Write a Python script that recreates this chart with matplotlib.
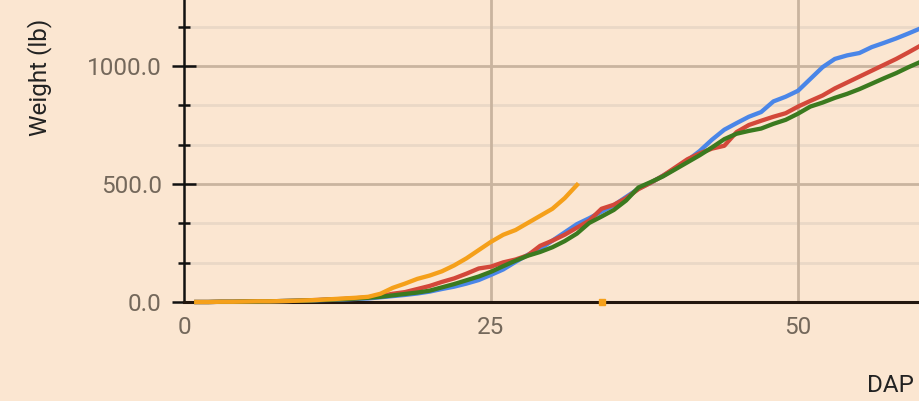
import matplotlib
matplotlib.use("Agg")
import matplotlib.pyplot as plt
import numpy as np

plt.rcParams['font.family'] = ['Roboto', 'DejaVu Sans']

days = list(range(1, 62))
blue = [0, 0, 1, 1, 2, 2, 3, 4, 5, 6, 8, 9, 11, 13, 15, 20, 25, 30, 36, 44,
        55, 65, 78, 93, 115, 138, 170, 200, 225, 260, 295, 330, 355, 383, 410, 445, 480, 505, 535, 565,
        600, 640, 688, 730, 758, 785, 805, 850, 870, 895, 945, 995, 1030, 1045, 1055, 1080, 1098, 1117, 1138, 1160,
        1180]
red = [0, 0, 1, 1, 2, 3, 3, 4, 5, 7, 9, 11, 13, 16, 20, 25, 35, 42, 55, 68,
       85, 100, 120, 142, 150, 168, 180, 198, 238, 260, 285, 315, 345, 395, 412, 440, 478, 505, 535, 570,
       605, 630, 650, 662, 720, 750, 768, 785, 800, 828, 852, 875, 905, 930, 955, 980, 1005, 1030, 1058, 1087,
       1115]
green = [0, 0, 1, 1, 2, 2, 3, 4, 5, 6, 8, 10, 12, 15, 18, 22, 28, 34, 40, 48,
         62, 76, 92, 108, 128, 152, 175, 196, 212, 232, 258, 290, 335, 362, 390, 430, 485, 508, 532, 562,
         592, 622, 655, 690, 713, 725, 735, 755, 772, 798, 828, 845, 865, 882, 902, 925, 948, 970, 995, 1018,
         1042]
orange_days = list(range(1, 33))
orange = [0, 0, 1, 1, 2, 3, 3, 4, 5, 7, 9, 12, 15, 18, 22, 35, 60, 78, 98, 112,
          130, 155, 185, 220, 255, 285, 305, 335, 365, 395, 440, 496]
orange_dot_x = [34]
orange_dot_y = [0]

x_ticks = [0, 25, 50]
y_major = [0, 500, 1000]
y_minor = [500 / 3, 1000 / 3, 2000 / 3, 2500 / 3, 3500 / 3]

BG = '#fbe6d1'
fig = plt.figure(figsize=(9.2, 4.01), dpi=100, facecolor=BG)
ax = fig.add_axes([184 / 920, 99 / 401, 736 / 920, 302 / 401], facecolor=BG)

ax.set_xlim(0, 736 / 12.28)
ax.set_ylim(0, 302 / 0.236)

for yv in y_minor:
    ax.axhline(yv, color='#ead8c6', lw=2.0, zorder=1)
for yv in y_major[1:]:
    ax.axhline(yv, color='#c9b49f', lw=2.0, zorder=1)
for xv in x_ticks[1:]:
    ax.axvline(xv, color='#c9b49f', lw=2.0, zorder=1)

lw = 3.1
ax.plot(days, blue, color='#4a86e8', lw=lw, zorder=4, clip_on=False, solid_joinstyle='round')
ax.plot(days, red, color='#d3483a', lw=lw, zorder=4, clip_on=False, solid_joinstyle='round')
ax.plot(days, green, color='#3b7a1f', lw=lw, zorder=5, clip_on=False, solid_joinstyle='round')
ax.plot(orange_days, orange, color='#f5a01a', lw=lw, zorder=6, clip_on=False, solid_joinstyle='round')
ax.plot(orange_dot_x, orange_dot_y, marker='s', ms=4, color='#f5a01a', ls='none', zorder=6, clip_on=False)

for s in ['top', 'right']:
    ax.spines[s].set_visible(False)
ax.spines['left'].set_color('#111111')
ax.spines['left'].set_linewidth(1.8)
ax.spines['bottom'].set_color('#22160e')
ax.spines['bottom'].set_linewidth(2.2)
ax.spines['left'].set_zorder(3)
ax.spines['bottom'].set_zorder(3)

ax.set_yticks(y_major)
ax.set_yticklabels([f"{v:.1f}" for v in y_major])
ax.set_yticks(y_minor, minor=True)
ax.tick_params(axis='y', which='major', direction='inout', length=17, width=1.8,
               color='#111111', labelsize=17.5, labelcolor='#74685b', pad=7.5)
ax.tick_params(axis='y', which='minor', direction='inout', length=8.5, width=1.8,
               color='#111111')

ax.set_xticks(x_ticks)
ax.set_xticklabels([str(v) for v in x_ticks])
ax.tick_params(axis='x', which='both', length=0, labelsize=17.5, labelcolor='#74685b', pad=10)

fig.text(40 / 920, 1 - 77 / 401, 'Weight (lb)', rotation=90, ha='center', va='center',
         fontsize=17.5, color='#222222')
fig.text(890 / 920, 1 - 385 / 401, 'DAP', ha='center', va='center', fontsize=17.5, color='#222222')

fig.savefig('out.png', dpi=100, facecolor=BG)
